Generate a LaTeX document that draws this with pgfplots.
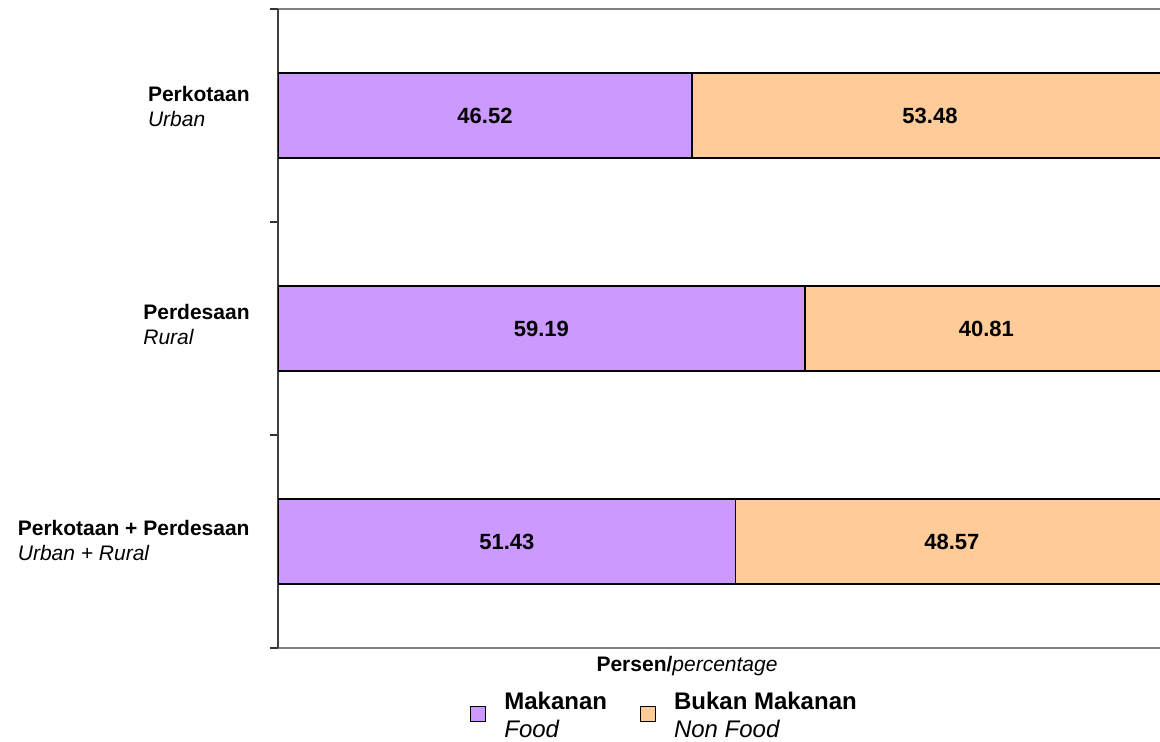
\documentclass[border=0pt]{standalone}
\usepackage{pgfplots}
\pgfplotsset{compat=1.18}
\usepackage{fontspec}
\setmainfont{Liberation Sans}
\definecolor{food}{HTML}{CC99FF}
\definecolor{nonfood}{HTML}{FFCC99}
\newcommand{\catlab}[3]{\raisebox{#1}[\height][\depth]{\begin{tabular}{@{}l@{}}\textbf{#2}\\\textit{#3}\end{tabular}}}
\begin{document}
\begin{tikzpicture}
\begin{axis}[
  name=ax,
  scale only axis,
  width=445pt, height=319.5pt,
  xbar stacked,
  bar width=42.5pt,
  xmin=0, xmax=100,
  ymin=0, ymax=3,
  xtick=\empty,
  ytick={0.5,1.5,2.5},
  yticklabels={
    {\catlab{-1pt}{Perkotaan + Perdesaan}{Urban + Rural}},
    {\catlab{0.5pt}{Perdesaan}{Rural}},
    {\catlab{3.25pt}{Perkotaan}{Urban}}},
  yticklabel style={anchor=east, inner sep=0pt, xshift=-14pt,
    font=\fontsize{10.5}{12.5}\selectfont},
  minor ytick={0,1,2,3},
  major tick length=0pt,
  minor tick length=4pt,
  tick align=outside,
  ytick pos=left,
  minor tick style={black!80, line width=0.6pt},
  separate axis lines,
  x axis line style={gray, line width=0.7pt},
  y axis line style={black!75, line width=0.9pt},
  xlabel={\textbf{Persen/}\textit{percentage}},
  xlabel style={at={(axis description cs:0.4596,0)}, anchor=base, yshift=-12pt,
    inner sep=0pt, font=\fontsize{10.5}{12}\selectfont},
  nodes near coords,
  point meta=explicit,
  nodes near coords style={font=\bfseries\fontsize{11}{12}\selectfont, black,
    /pgf/number format/.cd, fixed, precision=2, zerofill, assume math mode=true},
  legend style={at={(axis description cs:0.2157,0)}, anchor=west, yshift=-30pt,
    draw=none, fill=none, inner sep=0pt, column sep=9pt,
    nodes={inner sep=0pt},
    font=\fontsize{12}{14}\selectfont,
    /tikz/every even column/.append style={column sep=16.5pt}},
  legend columns=2,
  legend cell align=left,
  legend image code/.code={\draw[#1, draw=black, line width=0.5pt] (0pt,-6.75pt) rectangle (7.5pt,0.75pt);},
]
\addplot[fill=food, draw=black, line width=0.75pt] coordinates {
  (51.43,0.5) [51.43]
  (59.19,1.5) [59.19]
  (46.52,2.5) [46.52]
};
\addplot[fill=nonfood, draw=black, line width=0.75pt] coordinates {
  (48.57,0.5) [48.57]
  (40.81,1.5) [40.81]
  (53.48,2.5) [53.48]
};
\legend{{\begin{tabular}{@{}l@{}}\textbf{Makanan}\\\textit{Food}\end{tabular}},
        {\begin{tabular}{@{}l@{}}\textbf{Bukan Makanan}\\\textit{Non Food}\end{tabular}}}
\end{axis}
\pgfresetboundingbox
\path[use as bounding box] ([xshift=-139pt,yshift=-47pt]ax.south west) rectangle ([xshift=441pt,yshift=324pt]ax.south west);
\end{tikzpicture}
\end{document}
